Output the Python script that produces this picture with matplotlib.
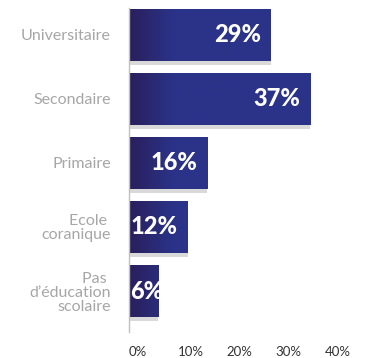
import numpy as np
import matplotlib
matplotlib.use("Agg")
import matplotlib.pyplot as plt
from matplotlib.colors import LinearSegmentedColormap

categories = ["Universitaire", "Secondaire", "Primaire", "Ecole \ncoranique", "Pas \nd\u2019éducation\nscolaire"]
values = [29, 37, 16, 12, 6]
ticks = [0, 10, 20, 30, 40]
tick_labels = ["0%", "10%", "20%", "30%", "40%"]

dark = "#2a1f5c"
blue = "#2b3389"
shadow = "#d9d9d9"

fig = plt.figure(figsize=(3.65, 3.58), dpi=100)
ax = fig.add_axes([129/365, 26/358, 230/365, 324/358])

h = 0.81
sh = 0.065
ys = np.arange(len(values))
cmap = LinearSegmentedColormap.from_list("g", [dark, blue])
grad_w = 9.0

for y, v in zip(ys, values):
    # grey strip under each bar
    ax.barh(y + h/2 + sh/2, v, height=sh, color=shadow, zorder=1)
    # gradient from dark at the axis to blue
    xs = np.linspace(0, v, 200)
    g = np.clip(xs / grad_w, 0, 1)[None, :]
    ax.imshow(g, cmap=cmap, vmin=0, vmax=1, aspect="auto",
              extent=(0, v, y + h/2, y - h/2), zorder=2, interpolation="bilinear")
    lab = f"{v}%"
    if v < 10:
        ax.annotate(lab, (0, y), xytext=(1, 0), textcoords="offset points",
                    ha="left", va="center", color="white", fontsize=17,
                    fontweight="black", family="Lato", zorder=3)
    else:
        ax.annotate(lab, (v, y), xytext=(-7, 0), textcoords="offset points",
                    ha="right", va="center", color="white", fontsize=17,
                    fontweight="black", family="Lato", zorder=3)

ax.set_xlim(0, 47)
ax.set_ylim(4.64, -0.42)
ax.set_yticks(ys)
ax.set_yticklabels(categories, color="#a6a6a6", fontsize=11.5, family="Lato",
                   linespacing=1.0)
ax.tick_params(axis="y", length=0, pad=13)
ax.set_xticks(ticks)
ax.set_xticklabels(tick_labels, ha="left", color="#333333", fontsize=9.5, family="Lato")
ax.tick_params(axis="x", length=0, pad=10)

for s in ["top", "right", "bottom"]:
    ax.spines[s].set_visible(False)
ax.spines["left"].set_color("#c0c0c0")
ax.spines["left"].set_linewidth(1)

fig.savefig("out.png", dpi=100)
